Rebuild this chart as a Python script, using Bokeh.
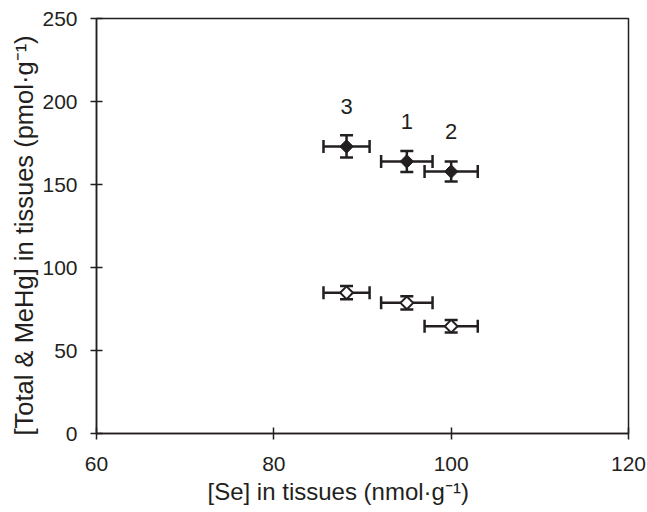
import numpy as np
from bokeh.plotting import figure
from bokeh.models import ColumnDataSource, Whisker, TeeHead, FixedTicker, Title
from bokeh.core.properties import value
from bokeh.embed import file_html
from bokeh.resources import INLINE

# Data (groups 1, 2, 3)
groups = ["1", "2", "3"]
se = [95.0, 100.0, 88.2]
se_err = [2.9, 3.0, 2.6]
total_hg = [163.9, 157.8, 172.9]
total_err = [6.3, 6.0, 6.7]
mehg = [78.7, 64.6, 84.8]
mehg_err = [4.0, 3.7, 4.0]

x_ticks = [60, 80, 100, 120]
y_ticks = [0, 50, 100, 150, 200, 250]
x_title = "[Se] in tissues (nmol·g⁻¹)"
y_title = "[Total & MeHg] in tissues (pmol·g⁻¹)"

INK = "#231f20"
FONT = "Liberation Sans"

se_a = np.array(se)
sx_a = np.array(se_err)

src_total = ColumnDataSource(dict(
    x=se, y=total_hg, xl=list(se_a - sx_a), xu=list(se_a + sx_a),
    yl=list(np.array(total_hg) - np.array(total_err)),
    yu=list(np.array(total_hg) + np.array(total_err)),
    label=groups))
src_mehg = ColumnDataSource(dict(
    x=se, y=mehg, xl=list(se_a - sx_a), xu=list(se_a + sx_a),
    yl=list(np.array(mehg) - np.array(mehg_err)),
    yu=list(np.array(mehg) + np.array(mehg_err))))

W, H = 647, 512
p = figure(width=W, height=H, x_range=(60, 120), y_range=(0, 250),
           output_backend="svg", toolbar_location=None,
           min_border_left=96, min_border_right=W - 628,
           min_border_top=18, min_border_bottom=H - 433)
p.background_fill_color = "white"
p.border_fill_color = "white"
p.grid.visible = False
p.outline_line_color = INK
p.outline_line_width = 1.5

for ax in (p.xaxis[0], p.yaxis[0]):
    ax.axis_line_color = INK
    ax.axis_line_width = 1.5
    ax.major_tick_line_color = INK
    ax.major_tick_line_width = 1.5
    ax.major_tick_in = 6
    ax.major_tick_out = 6
    ax.minor_tick_line_color = None
    ax.major_label_text_font = FONT
    ax.major_label_text_font_size = "21px"
    ax.major_label_text_color = INK

p.xaxis.ticker = FixedTicker(ticks=x_ticks)
p.yaxis.ticker = FixedTicker(ticks=y_ticks)
p.xaxis.major_label_standoff = 17
p.yaxis.major_label_standoff = 13

# axis titles placed as titles so they can be positioned like the original
p.add_layout(Title(text=x_title, align="left", offset=111, standoff=5,
                   text_font=FONT, text_font_size="24px", text_font_style="normal",
                   text_color=INK), "below")
p.add_layout(Title(text=y_title, align="left", offset=-2, standoff=4,
                   text_font=FONT, text_font_size="25.5px", text_font_style="normal",
                   text_color=INK), "left")

for src in (src_total, src_mehg):
    p.add_layout(Whisker(source=src, base="y", lower="xl", upper="xu", dimension="width",
                         line_color=INK, line_width=2.5,
                         lower_head=TeeHead(size=13, line_color=INK, line_width=2.5),
                         upper_head=TeeHead(size=13, line_color=INK, line_width=2.5)))
    p.add_layout(Whisker(source=src, base="x", lower="yl", upper="yu", dimension="height",
                         line_color=INK, line_width=2.5,
                         lower_head=TeeHead(size=13, line_color=INK, line_width=2.5),
                         upper_head=TeeHead(size=13, line_color=INK, line_width=2.5)))

p.scatter("x", "y", source=src_total, marker="square", angle=np.pi / 4, size=9.5,
          fill_color=INK, line_color=INK, line_width=1)
p.scatter("x", "y", source=src_mehg, marker="square", angle=np.pi / 4, size=9,
          fill_color="white", line_color=INK, line_width=2)

p.text("x", "y", text="label", source=src_total, y_offset=-40,
       text_align="center", text_baseline="middle",
       text_font=value(FONT), text_font_size="22px", text_color=INK)

open("out.html", "w").write(file_html(p, INLINE))
